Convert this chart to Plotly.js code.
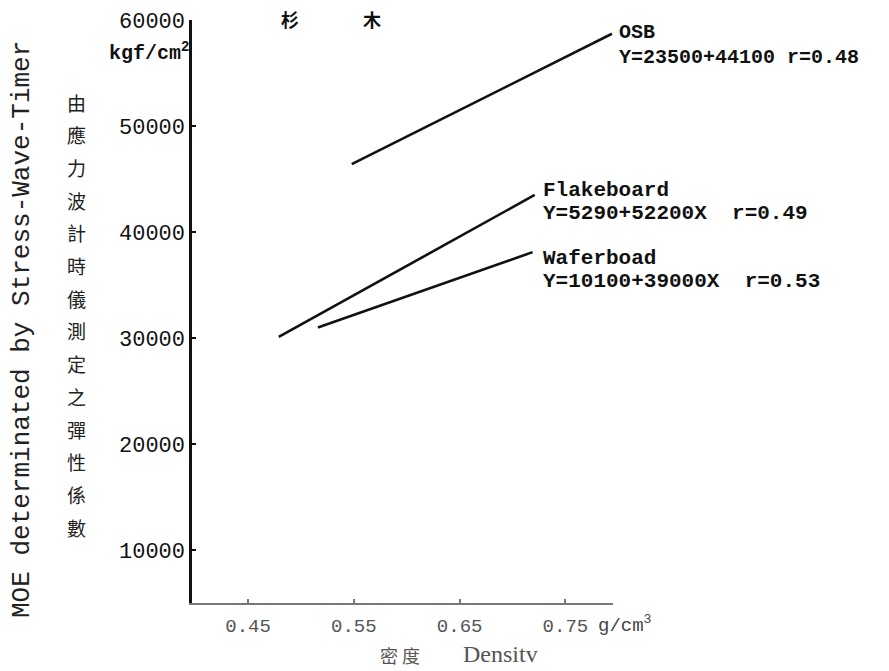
<!DOCTYPE html>
<html>
<head>
<meta charset="utf-8">
<script src="https://cdn.plot.ly/plotly-3.0.1.min.js"></script>
<style>html,body{margin:0;padding:0;background:#fff;}#chart{width:889px;height:671px;}</style>
</head>
<body>
<div id="chart"></div>
<script>
// Data (density g/cm3 vs MOE kgf/cm2)
const series = ["OSB", "Flakeboard", "Waferboad"];
const equations = ["Y=23500+44100 r=0.48", "Y=5290+52200X  r=0.49", "Y=10100+39000X  r=0.53"];
const osbX = [0.548, 0.794];
const osbY = [46400, 58700];
const flakeX = [0.479, 0.721];
const flakeY = [30100, 43500];
const waferX = [0.516, 0.719];
const waferY = [31000, 38100];
const xTickVals = [0.45, 0.55, 0.65, 0.75];
const xTickText = ["0.45", "0.55", "0.65", "0.75"];
const yTickVals = [10000, 20000, 30000, 40000, 50000, 60000];
const yTickText = ["10000", "20000", "30000", "40000", "50000", "60000"];
const yTitleZh = "由應力波計時儀測定之彈性係數";
const yTitleEn = "MOE determinated by Stress-Wave-Timer";

const W = 889, H = 671, L = 192, R = 276, T = 20, B = 68;
const pw = W - L - R, ph = H - T - B;
const px = p => (p - L) / pw;
const py = p => (H - B - p) / ph;

const mono = "Liberation Mono, Courier New, monospace";
const cjk = "Noto Sans CJK TC, Noto Sans CJK SC, sans-serif";

const lineStyle = {color: "#111", width: 2.6};
const traces = [
  {x: osbX, y: osbY, name: series[0], mode: "lines", line: lineStyle},
  {x: flakeX, y: flakeY, name: series[1], mode: "lines", line: lineStyle},
  {x: waferX, y: waferY, name: series[2], mode: "lines", line: lineStyle}
];

const ann = [];
// series labels
const labelPos = [[617, 33, 57, 20], [541, 190, 213, 21], [541, 258, 281, 21]];
for (let i = 0; i < series.length; i++) {
  ann.push({xref: "paper", yref: "paper", x: px(labelPos[i][0]), y: py(labelPos[i][1]),
    xanchor: "left", yanchor: "middle", text: "<b>" + series[i] + "</b>", showarrow: false,
    font: {family: mono, size: labelPos[i][3], color: "#111"}});
  ann.push({xref: "paper", yref: "paper", x: px(labelPos[i][0]), y: py(labelPos[i][2]),
    xanchor: "left", yanchor: "middle", text: "<b>" + equations[i] + "</b>", showarrow: false,
    font: {family: mono, size: labelPos[i][3], color: "#111"}});
}
// title
ann.push({xref: "paper", yref: "paper", x: px(290), y: py(19), xanchor: "center", yanchor: "middle",
  text: "<b>杉</b>", showarrow: false, font: {family: cjk, size: 18, color: "#111"}});
ann.push({xref: "paper", yref: "paper", x: px(372), y: py(19), xanchor: "center", yanchor: "middle",
  text: "<b>木</b>", showarrow: false, font: {family: cjk, size: 18, color: "#111"}});
// unit on y axis
ann.push({xref: "paper", yref: "paper", x: px(191), y: py(52), xanchor: "right", yanchor: "middle",
  text: "<b>kgf/cm<sup>2</sup></b>", showarrow: false, font: {family: mono, size: 20, color: "#111"}});
// unit on x axis
ann.push({xref: "paper", yref: "paper", x: px(596), y: py(624), xanchor: "left", yanchor: "middle",
  text: "g/cm<sup>3</sup>", showarrow: false, font: {family: mono, size: 19, color: "#444"}});
// x title
ann.push({xref: "paper", yref: "paper", x: px(400), y: py(655), xanchor: "center", yanchor: "middle",
  text: "密 度", showarrow: false, font: {family: cjk, size: 18, color: "#555"}});
ann.push({xref: "paper", yref: "paper", x: px(500), y: py(654), xanchor: "center", yanchor: "middle",
  text: "Densitv", showarrow: false, font: {family: "Liberation Serif, serif", size: 24, color: "#555"}});
// y titles
ann.push({xref: "paper", yref: "paper", x: px(22), y: py(330), xanchor: "center", yanchor: "middle",
  text: yTitleEn, textangle: -90, showarrow: false, font: {family: mono, size: 26, color: "#222"}});
const zh = Array.from(yTitleZh);
for (let i = 0; i < zh.length; i++) {
  ann.push({xref: "paper", yref: "paper", x: px(77), y: py(102 + i * 32.7), xanchor: "center", yanchor: "middle",
    text: zh[i], showarrow: false, font: {family: cjk, size: 19, color: "#222"}});
}

const layout = {
  width: W, height: H,
  margin: {l: L, r: R, t: T, b: B, pad: 0},
  paper_bgcolor: "#fff", plot_bgcolor: "#fff",
  showlegend: false,
  xaxis: {range: [0.397, 0.795], tickvals: xTickVals, ticktext: xTickText,
    showgrid: false, zeroline: false, showline: true, linecolor: "#777", linewidth: 2,
    ticks: "inside", ticklen: 4, tickcolor: "#777", tickwidth: 2,
    ticklabelstandoff: 4,
    tickfont: {family: mono, size: 19, color: "#555"}},
  yaxis: {range: [5000, 60000], tickvals: yTickVals, ticktext: yTickText,
    showgrid: false, zeroline: false, showline: true, linecolor: "#111", linewidth: 2.6,
    ticks: "inside", ticklen: 4, tickcolor: "#111", tickwidth: 2,
    ticklabelstandoff: 0,
    tickfont: {family: mono, size: 22, color: "#111"}},
  annotations: ann
};

Plotly.newPlot("chart", traces, layout, {displayModeBar: false, staticPlot: true});
</script>
</body>
</html>
